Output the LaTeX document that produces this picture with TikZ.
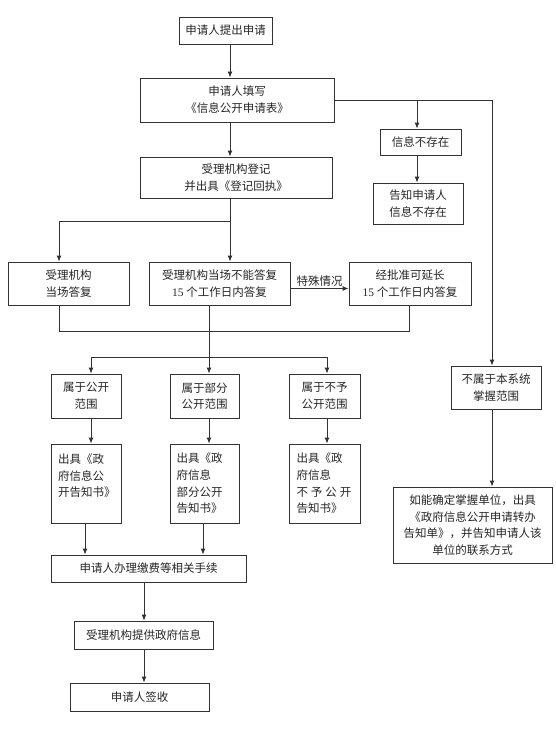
\documentclass[tikz,border=0pt]{standalone}
\usepackage{fontspec}
\setmainfont{Noto Sans CJK SC}
\newfontfamily\latnum{Liberation Serif}
\usetikzlibrary{arrows.meta}
\begin{document}
\begin{tikzpicture}[x=1bp,y=-1bp,
  box/.style={draw=black!80, line width=0.9bp, inner sep=0pt, align=center,
    font=\fontsize{11.5bp}{16.7bp}\selectfont, text=black!85},
  tbox/.style={box, minimum height=79bp, text width=56bp, align=left},
  lbl/.style={inner sep=2bp, font=\fontsize{11.5bp}{16.7bp}\selectfont, text=black!85},
  conn/.style={draw=black!80, line width=0.9bp},
  arr/.style={conn, -{Latex[length=6bp,width=5bp]}}]
\fill[white] (0,0) rectangle (556,754);
\useasboundingbox (0,0) rectangle (556,754);

% helper coordinates for connector positions
\coordinate (xA) at (230,0);
\coordinate (xR) at (492,0);
\coordinate (xN) at (417,0);
\coordinate (xL) at (59,0);
\coordinate (xM) at (209,0);
\coordinate (xRR) at (409,0);
\coordinate (xS1) at (91,0);
\coordinate (xS3) at (327,0);
\coordinate (xT1) at (85,0);
\coordinate (xT2) at (203,0);
\coordinate (xU) at (144,0);
\coordinate (yJ) at (0,221);
\coordinate (yS) at (0,288.5);
\coordinate (yM) at (0,331);
\coordinate (yB) at (0,357);

% boxes
\node[box, minimum width=93bp, minimum height=27bp] (b1) at (225.5,30.5) {申请人提出申请};
\node[box, minimum width=194bp, minimum height=44bp] (b2) at (237,100) {申请人填写\\《信息公开申请表》};
\node[box, minimum width=192bp, minimum height=41bp] (b3) at (236,177.5) {受理机构登记\\并出具《登记回执》};
\node[box, minimum width=81bp, minimum height=26bp] (ne) at (420.5,142) {信息不存在};
\node[box, minimum width=90bp, minimum height=41bp] (ng) at (418,203.5) {告知申请人\\信息不存在};

\node[box, minimum width=121bp, minimum height=43bp] (r1) at (68.5,283.5) {受理机构\\当场答复};
\node[box, minimum width=141bp, minimum height=43bp] (r2) at (219.5,283.5) {受理机构当场不能答复\\{\latnum 15} 个工作日内答复};
\node[box, minimum width=122bp, minimum height=43bp] (r3) at (410,283.5) {经批准可延长\\{\latnum 15} 个工作日内答复};

\node[box, minimum width=70bp, minimum height=44bp] (s1) at (86,396) {属于公开\\范围};
\node[box, minimum width=69bp, minimum height=44bp] (s2) at (204.5,396) {属于部分\\公开范围};
\node[box, minimum width=71bp, minimum height=44bp] (s3) at (324.5,396) {属于不予\\公开范围};

\node[tbox, minimum width=70bp] (t1) at (86,483.5) {出具《政\\府信息公\\开告知书》\\\mbox{}};
\node[tbox, minimum width=69bp] (t2) at (204.5,483.5) {出具《政\\府信息\\部分公开\\告知书》};
\node[tbox, minimum width=71bp] (t3) at (324.5,483.5) {出具《政\\府信息\\\mbox{不\kern3bp 予\kern3bp 公\kern3bp 开}\\告知书》};

\node[box, minimum width=195bp, minimum height=27bp] (u) at (148.5,568.5) {申请人办理缴费等相关手续};
\node[box, minimum width=139bp, minimum height=28bp] (v) at (143.5,635) {受理机构提供政府信息};
\node[box, minimum width=139bp, minimum height=28bp] (w) at (139.5,697) {申请人签收};

\node[box, minimum width=90bp, minimum height=43bp] (n4) at (496,387.5) {不属于本系统\\掌握范围};
\node[box, minimum width=159bp, minimum height=76bp] (n5) at (472.5,525) {如能确定掌握单位，出具\\《政府信息公开申请转办\\告知单》，并告知申请人该\\单位的联系方式};

% connectors
\draw[arr] (b1.south -| xA) -- (b2.north -| xA);
\draw[arr] (b2.south -| xA) -- (b3.north -| xA);
\draw[arr] (b2.east) -| (n4.north -| xR);
\draw[arr] (b2.east -| xN) -- (ne.north -| xN);
\draw[arr] (ne.south -| xN) -- (ng.north -| xN);
\draw[arr] (b3.south -| xA) -- (r2.north -| xA);
\coordinate (j1) at (xA |- yJ);
\draw[arr] (j1) -| (r1.north -| xL);
\draw[arr] (r2.east |- yS) -- node[lbl, above] {特殊情况} (r3.west |- yS);
\draw[conn] (r1.south -| xL) |- (xRR |- yM) -- (r3.south -| xRR);
\draw[arr] (r2.south -| xM) -- (s2.north -| xM);
\coordinate (j2) at (xM |- yB);
\draw[arr] (j2) -| (s1.north -| xS1);
\draw[arr] (j2) -| (s3.north -| xS3);
\draw[arr] (s1.south -| xS1) -- (t1.north -| xS1);
\draw[arr] (s2.south -| xM) -- (t2.north -| xM);
\draw[arr] (s3.south -| xS3) -- (t3.north -| xS3);
\draw[arr] (t1.south -| xT1) -- (u.north -| xT1);
\draw[arr] (t2.south -| xT2) -- (u.north -| xT2);
\draw[arr] (u.south -| xU) -- (v.north -| xU);
\draw[arr] (v.south -| xU) -- (w.north -| xU);
\draw[arr] (n4.south -| xR) -- (n5.north -| xR);
\end{tikzpicture}
\end{document}
